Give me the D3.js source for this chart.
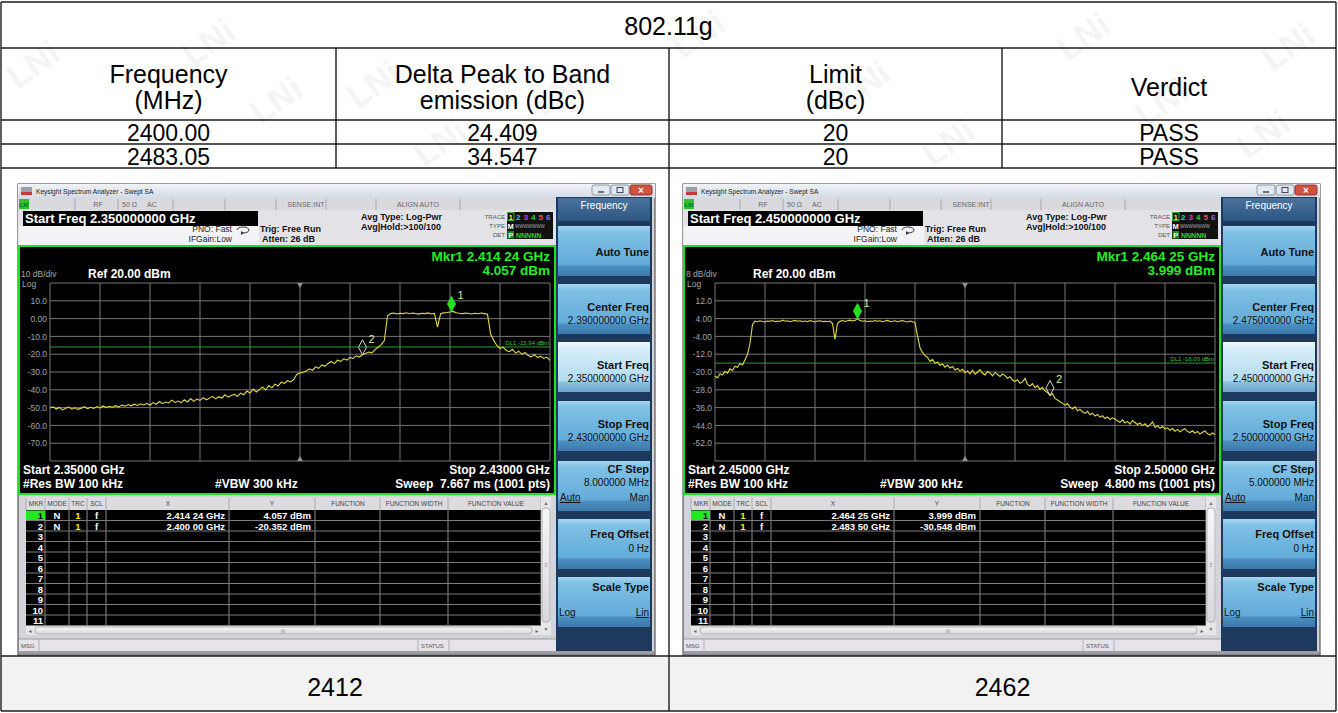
<!DOCTYPE html>
<html>
<head>
<meta charset="utf-8">
<script src="https://cdn.jsdelivr.net/npm/d3@7/dist/d3.min.js"></script>
<style>
  body { margin: 0; background: #fff; }
  text { font-family: "Liberation Sans", Arial, sans-serif; }
</style>
</head>
<body>
<div id="chart"></div>
<script>
// ---- result table
var modeName = '802.11g';
var headFreq = ['Frequency', '(MHz)'];
var headDelta = ['Delta Peak to Band', 'emission (dBc)'];
var headLimit = ['Limit', '(dBc)'];
var headVerdict = ['Verdict'];
var edgeFreq = ['2400.00', '2483.05'];
var deltaPeak = ['24.409', '34.547'];
var limitDbc = ['20', '20'];
var verdict = ['PASS', 'PASS'];
var channel = ['2412', '2462'];

// ---- analyzer settings (MHz, dBm)
var spanStart = [2350, 2450];
var spanStop = [2430, 2500];
var refLevel = [20, 20];
var dbDiv = [10, 8];
var dlLevel = [-15.94, -16.00];
var sweepMs = ['7.667', '4.800'];
var cfStepMHz = ['8.000000', '5.000000'];
var yTickLeft = ['10.0', '0.00', '-10.0', '-20.0', '-30.0', '-40.0', '-50.0', '-60.0', '-70.0'];
var yTickRight = ['12.0', '4.00', '-4.00', '-12.0', '-20.0', '-28.0', '-36.0', '-44.0', '-52.0'];
var mkrFreqLeft = [2414.24, 2400.00];
var mkrAmpLeft = [4.057, -20.352];
var mkrFreqRight = [2464.25, 2483.50];
var mkrAmpRight = [3.999, -30.548];
var keyNames = ['Auto Tune', 'Center Freq', 'Start Freq', 'Stop Freq', 'CF Step', 'Freq Offset', 'Scale Type'];
var mkrHeads = ['MKR', 'MODE', 'TRC', 'SCL', 'X', 'Y', 'FUNCTION', 'FUNCTION WIDTH', 'FUNCTION VALUE'];

// trace readings (dBm), evenly spaced from start to stop
var traceLeft = [
  -50.2, -49.6, -50.8, -49.9, -51.3, -50.4, -49.7, -50.9, -50.1, -51.0, -50.3, -49.5, -50.6, -49.8, -50.5, -49.4, -50.2, -49.1, -50.0, -49.3, -49.8,
  -48.9, -49.6, -48.6, -49.2, -48.3, -49.0, -48.1, -48.8, -47.9, -48.5, -47.6, -48.7, -47.2, -48.1, -46.6, -47.8, -46.9, -47.4, -45.8, -47.1,
  -46.3, -47.2, -45.6, -46.8, -44.9, -46.5, -45.2, -45.9, -44.4, -45.6, -44.8, -43.7, -45.1, -43.9, -44.6, -42.8, -44.1, -43.2, -42.5, -43.6,
  -41.9, -42.8, -40.7, -41.8, -39.6, -41.2, -39.9, -38.4, -40.1, -37.6, -38.9, -36.8, -37.9, -35.7, -36.4, -34.9, -35.6, -34.2, -31.2, -30.6,
  -30.1, -29.4, -28.2, -29.0, -27.1, -27.9, -26.0, -26.8, -25.2, -24.1, -25.3, -23.4, -24.0, -22.6, -23.3, -21.8, -22.4, -20.9, -21.6, -20.35,
  -19.6, -18.8, -19.2, -17.4, -16.1, -14.6, -12.3,
  1.6,
  2.9, 3.1, 2.6, 3.0, 2.8, 3.3, 2.7, 3.1, 2.9, 2.5, 3.0, 2.8, 3.2, 2.6, 2.9,
  -4.8,
  2.7, 3.2, 3.4, 3.7, 4.05, 3.3, 3.0, 2.8, 3.1, 2.9, 2.6, 3.0, 2.7, 3.1, 2.8, 2.4,
  -8.7, -12.4, -15.1, -16.8, -16.0, -17.9, -18.6, -17.2, -19.4, -18.3, -20.1, -19.0, -20.8, -21.5, -20.2, -21.9, -21.1, -22.4, -21.6, -23.4
];
var traceRight = [
  -21.9, -22.6, -20.8, -21.4, -19.7, -20.5, -18.6, -19.3, -17.4, -17.9, -16.2, -16.8, -14.5, -12.1, -7.2, 1.4,
  2.9, 2.6, 3.0, 2.7, 2.5, 2.9, 2.8, 3.1, 2.6, 2.9, 2.7, 3.3, 2.8, 3.0, 2.6, 2.9, 3.2, 2.8, 3.0, 2.7, 2.9, 2.6, 3.1, 2.8, 2.5, 2.9, 3.0, 2.7, 2.8, 2.6, 2.9, 1.8,
  -5.3,
  1.9, 2.8, 3.1, 2.7, 3.0, 3.3, 2.9, 3.2, 3.999, 3.1, 2.8, 3.0, 2.6, 2.9, 2.7, 3.1, 2.8, 3.0, 2.6, 2.9, 3.2, 2.7, 2.8, 3.0, 2.6, 2.9, 3.1, 2.7, 2.5, 2.9, 2.6, 2.2,
  -3.8, -9.1, -11.2, -12.6, -13.4, -15.2, -14.3, -16.1, -15.6, -17.0, -16.4, -17.8, -16.9, -18.2, -17.5, -19.1, -18.4, -19.6, -18.8, -20.3,
  -19.5, -20.8, -19.2, -21.0, -20.1, -18.9, -20.6, -21.3, -19.8, -20.4, -21.7, -20.2, -21.1, -22.0, -20.9, -21.6, -22.8, -22.1, -23.6, -24.2,
  -23.5, -25.1, -24.4, -22.9, -25.6, -26.3, -25.2, -27.0, -26.1, -27.8, -26.9, -28.5, -29.2, -30.548, -29.7, -31.9, -32.6, -33.4, -34.1, -34.9,
  -34.2, -35.8, -36.5, -35.6, -37.4, -36.8, -37.9, -38.6, -37.7, -39.2, -38.5, -39.8, -39.1, -40.3, -39.6, -40.9, -40.2, -41.4, -40.6, -41.1,
  -41.9, -42.6, -41.5, -42.9, -42.2, -43.4, -41.8, -42.7, -43.6, -42.9, -44.1, -43.3, -44.6, -43.8, -42.4, -44.9, -44.2, -45.3, -44.5, -45.6,
  -45.1, -46.2, -45.4, -46.6, -45.8, -46.9, -46.1, -45.5, -46.8, -47.2, -46.4, -47.5, -46.7, -47.9, -47.1, -46.5, -47.8, -48.3, -47.4, -48.1
];

var svg = d3.select('#chart').append('svg').attr('width', 1338).attr('height', 713);
var defs = svg.append('defs');

function grad(id, stops) {
  var lg = defs.append('linearGradient').attr('id', id)
    .attr('x1', 0).attr('y1', 0).attr('x2', 0).attr('y2', 1);
  stops.forEach(function (s) {
    lg.append('stop').attr('offset', s[0]).attr('stop-color', s[1]);
  });
}
grad('tbar', [[0, '#f1f4f8'], [1, '#d3dbe5']]);
grad('key', [[0, '#a6d5ee'], [0.12, '#80c1e5'], [0.78, '#62abd9'], [0.8, '#4a8fc0'], [1, '#3c7aab']]);
grad('keySel', [[0, '#f4fbfe'], [0.12, '#d8eef9'], [0.78, '#b2daef'], [0.8, '#8cc1e0'], [1, '#6ea6cf']]);
grad('keyHead', [[0, '#4a739c'], [1, '#2c5783']]);
grad('bar', [[0, '#f7f7f9'], [1, '#d7d7dc']]);

function txt(p, x, y, s, size, o) {
  o = o || {};
  return p.append('text')
    .attr('x', x).attr('y', y)
    .attr('font-size', size)
    .attr('font-weight', o.w || 'normal')
    .attr('fill', o.c || '#000')
    .attr('text-anchor', o.a || 'start')
    .text(s);
}
function seg(p, x1, y1, x2, y2, c, w) {
  return p.append('line').attr('x1', x1).attr('y1', y1).attr('x2', x2).attr('y2', y2)
    .attr('stroke', c).attr('stroke-width', w || 1);
}
function ghz(mhz, d) { return (mhz / 1000).toFixed(d); }
function mkr(mhz) { var s = (mhz / 1000).toFixed(5); return s.slice(0, 5) + ' ' + s.slice(5); }

// ---- table cells
var colX = [1, 336, 669, 1002, 1336];
var rowY = [2, 48, 120, 144, 168, 656, 711];

svg.append('rect').attr('x', colX[0]).attr('y', rowY[5])
  .attr('width', colX[4] - colX[0]).attr('height', rowY[6] - rowY[5]).attr('fill', '#f2f2f2');

var tb = svg.append('g');
function cell(x, y, s, size) {
  txt(tb, x, y, s, size || 25, {a: 'middle'}).attr('dominant-baseline', 'central');
}
cell((colX[0] + colX[4]) / 2, (rowY[0] + rowY[1]) / 2 + 1, modeName);
var heads = [headFreq, headDelta, headLimit, headVerdict];
heads.forEach(function (h, i) {
  var cx = (colX[i] + colX[i + 1]) / 2, cy = (rowY[1] + rowY[2]) / 2 + 3;
  h.forEach(function (s, j) { cell(cx, cy + (j - (h.length - 1) / 2) * 26, s); });
});
edgeFreq.forEach(function (f, r) {
  var cy = (rowY[2 + r] + rowY[3 + r]) / 2 + 1;
  var vals = [f, deltaPeak[r], limitDbc[r], verdict[r]];
  vals.forEach(function (s, i) { cell((colX[i] + colX[i + 1]) / 2, cy, s, 23); });
});
channel.forEach(function (s, i) {
  var cx = i === 0 ? (colX[0] + colX[2]) / 2 : (colX[2] + colX[4]) / 2;
  cell(cx, (rowY[5] + rowY[6]) / 2 + 3, s);
});

// ---- one analyzer screen
function analyzer(s, id) {
  var g = svg.append('g').attr('transform', 'translate(' + s.ox + ',184)');
  var center = (s.start + s.stop) / 2;

  g.append('rect').attr('width', 637).attr('height', 471).attr('fill', '#d3d4da').attr('stroke', '#3a3a3a');

  // title bar
  g.append('rect').attr('width', 637).attr('height', 14).attr('fill', 'url(#tbar)');
  g.append('rect').attr('x', 3).attr('y', 3).attr('width', 11).attr('height', 8).attr('fill', '#9aa0aa');
  g.append('rect').attr('x', 3).attr('y', 8).attr('width', 11).attr('height', 3).attr('fill', '#c8393a');
  txt(g, 18, 10, 'Keysight Spectrum Analyzer - Swept SA', 6.6, {c: '#222'});
  g.append('rect').attr('x', 574).attr('y', 1).attr('width', 18).attr('height', 10).attr('rx', 2)
    .attr('fill', '#e3e9f0').attr('stroke', '#8a96a6');
  g.append('rect').attr('x', 593).attr('y', 1).attr('width', 18).attr('height', 10).attr('rx', 2)
    .attr('fill', '#e3e9f0').attr('stroke', '#8a96a6');
  g.append('rect').attr('x', 612).attr('y', 1).attr('width', 22).attr('height', 10).attr('rx', 2)
    .attr('fill', '#d2503f').attr('stroke', '#8a3a30');
  seg(g, 580, 8, 586, 8, '#445', 1.5);
  g.append('rect').attr('x', 599).attr('y', 3.5).attr('width', 6).attr('height', 5).attr('fill', 'none').attr('stroke', '#445');
  txt(g, 623, 10, '×', 10, {c: '#fff', a: 'middle', w: 'bold'});

  // status row
  g.append('rect').attr('y', 14).attr('width', 538).attr('height', 12).attr('fill', '#dadade');
  g.append('rect').attr('x', 1).attr('y', 15).attr('width', 10).attr('height', 10).attr('fill', '#2fc12f');
  txt(g, 6, 23, 'LXI', 5.5, {a: 'middle', w: 'bold', c: '#063'});
  [57, 100, 155, 207, 258, 308, 358, 442].forEach(function (x) { seg(g, x, 15, x, 26, '#a4a4ac'); });
  txt(g, 80, 23, 'RF', 7, {c: '#666', a: 'middle'});
  txt(g, 104, 23, '50 Ω', 7, {c: '#666'});
  txt(g, 129, 23, 'AC', 7, {c: '#666'});
  txt(g, 288, 23, 'SENSE:INT', 7, {c: '#666', a: 'middle'});
  txt(g, 400, 23, 'ALIGN AUTO', 7, {c: '#666', a: 'middle'});

  // settings area
  g.append('rect').attr('y', 26).attr('width', 538).attr('height', 36).attr('fill', '#e3e3e7');
  g.append('rect').attr('x', 1).attr('y', 42).attr('width', 240).attr('height', 19).attr('fill', '#f3f3f5');
  g.append('rect').attr('x', 5).attr('y', 27).attr('width', 235).attr('height', 15).attr('fill', '#000');
  txt(g, 7, 39, 'Start Freq ' + ghz(s.start, 9) + ' GHz', 13, {w: 'bold', c: '#fff'});
  txt(g, 214, 48, 'PNO: Fast', 8.5, {c: '#222', a: 'end'});
  txt(g, 214, 58, 'IFGain:Low', 8.5, {c: '#222', a: 'end'});
  g.append('path').attr('d', 'M219,46 a6,3 0 1,1 12,0 a6,3 0 0,1 -6,3').attr('fill', 'none').attr('stroke', '#333');
  g.append('path').attr('d', 'M223,47 l3,2 l-3,2 z').attr('fill', '#333');
  txt(g, 242, 48, 'Trig: Free Run', 9, {w: 'bold', c: '#111'});
  txt(g, 244, 58, 'Atten: 26 dB', 9, {w: 'bold', c: '#111'});
  txt(g, 343, 36, 'Avg Type: Log-Pwr', 9, {w: 'bold', c: '#111'});
  txt(g, 343, 46, 'Avg|Hold:>100/100', 9, {w: 'bold', c: '#111'});
  txt(g, 487, 35, 'TRACE', 6, {c: '#555', a: 'end'});
  txt(g, 487, 44, 'TYPE', 6, {c: '#555', a: 'end'});
  txt(g, 487, 53, 'DET', 6, {c: '#555', a: 'end'});
  g.append('rect').attr('x', 489).attr('y', 28).attr('width', 46).attr('height', 27).attr('fill', '#111');
  g.append('rect').attr('x', 489.5).attr('y', 28.5).attr('width', 6.5).attr('height', 8).attr('fill', 'none').attr('stroke', '#3a3');
  var trc = ['#f2ee20', '#22d0f0', '#e030e0', '#30d030', '#f05060', '#8a70ff'];
  trc.forEach(function (c, k) { txt(g, 492.7 + k * 7.5, 35.5, String(k + 1), 8, {w: 'bold', c: c, a: 'middle'}); });
  txt(g, 492.7, 44.5, 'M', 7.5, {w: 'bold', c: '#fff', a: 'middle'});
  txt(g, 497, 44, 'WWWWWWW', 4.5, {c: '#aaa'});
  g.append('rect').attr('x', 489.5).attr('y', 47).attr('width', 6.5).attr('height', 7.5).attr('fill', '#1a8a1a');
  txt(g, 492.7, 53.5, 'P', 7.5, {w: 'bold', c: '#fff', a: 'middle'});
  txt(g, 498, 53.5, 'NNNNN', 7, {w: 'bold', c: '#2ed42e'});

  // graticule display
  var gr = g.append('g');
  gr.append('rect').attr('x', 1).attr('y', 62).attr('width', 536).attr('height', 248)
    .attr('fill', '#000').attr('stroke', '#1ee31e').attr('stroke-width', 2);
  var x = d3.scaleLinear().domain([s.start, s.stop]).range([32, 532]);
  var y = d3.scaleLinear().domain([s.ref - 10 * s.div, s.ref]).range([277, 99]);
  d3.range(11).forEach(function (k) {
    var gx = x(s.start + k * (s.stop - s.start) / 10), gy = y(s.ref - k * s.div);
    seg(gr, gx, 99, gx, 277, '#767676');
    seg(gr, 32, gy, 532, gy, '#767676');
  });
  var tv = s.ticks.map(function (t, k) { return s.ref - (k + 1) * s.div; });
  var ax = gr.append('g').attr('transform', 'translate(32,0)')
    .call(d3.axisLeft(y).tickValues(tv).tickSize(0).tickPadding(3)
      .tickFormat(function (d, k) { return s.ticks[k]; }));
  ax.select('.domain').remove();
  ax.attr('font-size', 8.5);
  ax.selectAll('text').attr('fill', '#a4a4a4');

  var cx = x(center);
  gr.append('path').attr('d', 'M' + (cx - 3) + ',99 L' + (cx + 3) + ',99 L' + cx + ',104 Z').attr('fill', '#909090');
  gr.append('path').attr('d', 'M' + (cx - 3) + ',277 L' + (cx + 3) + ',277 L' + cx + ',272 Z').attr('fill', '#909090');

  seg(gr, 32, y(s.dl), 532, y(s.dl), '#2f9b2f');
  txt(gr, 531, y(s.dl) - 2, 'DL1 ' + s.dl.toFixed(2) + ' dBm', 6, {c: '#3cc43c', a: 'end'});

  var n = s.trace.length;
  var clipId = 'plot' + id;
  defs.append('clipPath').attr('id', clipId).append('rect')
    .attr('x', 32).attr('y', 99).attr('width', 500).attr('height', 178);
  gr.append('path').datum(s.trace)
    .attr('clip-path', 'url(#' + clipId + ')')
    .attr('fill', 'none').attr('stroke', '#e2da3a').attr('stroke-width', 1.1)
    .attr('d', d3.line()
      .x(function (d, k) { return x(s.start + k * (s.stop - s.start) / (n - 1)); })
      .y(function (d) { return y(d); }));

  s.mf.forEach(function (f, m) {
    var px = x(f), py = y(s.ma[m]);
    gr.append('path').attr('d', 'M' + px + ',' + py + 'l4,-7.5l-4,-7.5l-4,7.5z')
      .attr('fill', m === 0 ? '#22e022' : 'none')
      .attr('stroke', m === 0 ? '#22e022' : '#d8d8d8');
    txt(gr, px + 6, py - 12, String(m + 1), 11, {c: '#e9e39a'});
  });

  txt(gr, 532, 76.5, 'Mkr1 ' + mkr(s.mf[0]) + ' GHz', 13.5, {w: 'bold', c: '#22ee22', a: 'end'});
  txt(gr, 532, 90.5, s.ma[0].toFixed(3) + ' dBm', 13.5, {w: 'bold', c: '#22ee22', a: 'end'});
  txt(gr, 3, 93, s.div + ' dB/div', 8.5, {c: '#a8a8a8'});
  txt(gr, 70, 94, 'Ref ' + s.ref.toFixed(2) + ' dBm', 12, {w: 'bold', c: '#fff'});
  txt(gr, 4, 102.5, 'Log', 8.5, {c: '#a8a8a8'});
  txt(gr, 5, 290, 'Start ' + ghz(s.start, 5) + ' GHz', 12, {w: 'bold', c: '#fff'});
  txt(gr, 532, 290, 'Stop ' + ghz(s.stop, 5) + ' GHz', 12, {w: 'bold', c: '#fff', a: 'end'});
  txt(gr, 5, 304, '#Res BW 100 kHz', 12, {w: 'bold', c: '#fff'});
  txt(gr, 197, 304, '#VBW 300 kHz', 12, {w: 'bold', c: '#fff'});
  txt(gr, 532, 304, 'Sweep  ' + s.sweep + ' ms (1001 pts)', 12, {w: 'bold', c: '#fff', a: 'end'})
    .style('white-space', 'pre');

  // marker table
  var tg = g.append('g');
  var cols = [8, 27, 51, 69, 88, 211, 297, 362, 430, 523];
  var hx = [18, 39, 60, 78.5, 150, 254, 330, 396, 478];
  tg.append('rect').attr('x', 8).attr('y', 313).attr('width', 525).attr('height', 13).attr('fill', '#dcdce0');
  tg.append('rect').attr('x', 8).attr('y', 326).attr('width', 515).attr('height', 116).attr('fill', '#000');
  mkrHeads.forEach(function (h, k) { txt(tg, hx[k], 322, h, 6.5, {c: '#444', a: 'middle'}); });
  cols.forEach(function (c, k) {
    seg(tg, c, 314, c, 326, '#a8a8b0');
    if (k > 0) seg(tg, c, 326, c, 442, '#8a8a8a');
  });
  for (var r = 0; r < 11; r++) {
    var ry = 326 + r * 10.5;
    seg(tg, 8, ry + 10.5, 523, ry + 10.5, '#7c7c7c');
    if (r === 0) tg.append('rect').attr('x', 8).attr('y', ry + 0.5).attr('width', 19).attr('height', 9.5).attr('fill', '#22e822');
    txt(tg, 25, ry + 9, String(r + 1), 9.5, {w: 'bold', c: r === 0 ? '#000' : '#fff', a: 'end'});
  }
  s.mf.forEach(function (f, m) {
    var by = 326 + m * 10.5 + 9;
    txt(tg, 39, by, 'N', 9.5, {w: 'bold', c: '#fff', a: 'middle'});
    txt(tg, 60, by, '1', 9.5, {w: 'bold', c: '#f0f000', a: 'middle'});
    txt(tg, 78.5, by, 'f', 9.5, {w: 'bold', c: '#fff', a: 'middle'});
    txt(tg, 207, by, mkr(f) + ' GHz', 9.5, {w: 'bold', c: '#fff', a: 'end'});
    txt(tg, 293, by, s.ma[m].toFixed(3) + ' dBm', 9.5, {w: 'bold', c: '#fff', a: 'end'});
  });
  tg.append('rect').attr('x', 523).attr('y', 313).attr('width', 10).attr('height', 138).attr('fill', '#e6e6e8');
  tg.append('rect').attr('x', 524).attr('y', 324).attr('width', 8).attr('height', 114).attr('rx', 3)
    .attr('fill', 'url(#bar)').attr('stroke', '#b0b0b4');
  txt(tg, 528, 321, '▲', 5, {c: '#666', a: 'middle'});
  txt(tg, 528, 447, '▼', 5, {c: '#666', a: 'middle'});
  txt(tg, 528, 383, '≡', 6, {c: '#888', a: 'middle'});
  tg.append('rect').attr('x', 8).attr('y', 442).attr('width', 515).attr('height', 9).attr('fill', '#e6e6e8');
  tg.append('rect').attr('x', 17).attr('y', 443).attr('width', 497).attr('height', 7).attr('rx', 3)
    .attr('fill', 'url(#bar)').attr('stroke', '#b0b0b4');
  txt(tg, 12, 449, '◄', 5, {c: '#666', a: 'middle'});
  txt(tg, 519, 449, '►', 5, {c: '#666', a: 'middle'});
  txt(tg, 265, 449, 'III', 5, {c: '#888', a: 'middle'});

  // message bar
  g.append('rect').attr('x', 1).attr('y', 455).attr('width', 537).attr('height', 13).attr('fill', '#e6e4ea');
  seg(g, 1, 455, 538, 455, '#9a9aa2');
  txt(g, 3, 464, 'MSG', 6, {c: '#555'});
  seg(g, 21, 455, 21, 468, '#b0b0b6');
  seg(g, 400, 455, 400, 468, '#b0b0b6');
  txt(g, 403, 464, 'STATUS', 6, {c: '#555'});
  seg(g, 431, 455, 431, 468, '#b0b0b6');
  g.append('rect').attr('x', 1).attr('y', 467).attr('width', 635).attr('height', 3).attr('fill', '#9c9ca4');

  // soft keys
  var kp = g.append('g');
  kp.append('rect').attr('x', 538).attr('y', 13).attr('width', 96).attr('height', 454).attr('fill', '#1d3a5e');
  kp.append('rect').attr('x', 540).attr('y', 14).attr('width', 92).attr('height', 23).attr('fill', 'url(#keyHead)');
  txt(kp, 586, 25, 'Frequency', 10, {c: '#fff', a: 'middle'});
  var keyTop = [42, 100, 158, 217, 277, 335, 393];
  var keyLab = [30, 27, 27, 27, 12, 19, 14];
  var keyValY = [0, 40, 40, 40, 25, 33, 0];
  var keyVal = ['', ghz(center, 9) + ' GHz', ghz(s.start, 9) + ' GHz', ghz(s.stop, 9) + ' GHz', s.step + ' MHz', '0 Hz', ''];
  keyNames.forEach(function (k, i) {
    var t = keyTop[i];
    kp.append('rect').attr('x', 540).attr('y', t).attr('width', 92).attr('height', 50)
      .attr('fill', i === 2 ? 'url(#keySel)' : 'url(#key)');
    txt(kp, 631, t + keyLab[i], k, 11, {w: 'bold', c: '#111', a: 'end'});
    if (keyVal[i]) txt(kp, 631, t + keyValY[i], keyVal[i], 10, {c: '#111', a: 'end'});
  });
  txt(kp, 542, 317, 'Auto', 10, {c: '#111'}).attr('text-decoration', 'underline');
  txt(kp, 631, 317, 'Man', 10, {c: '#111', a: 'end'});
  txt(kp, 541, 432, 'Log', 10, {c: '#111'});
  txt(kp, 631, 432, 'Lin', 10, {c: '#111', a: 'end'}).attr('text-decoration', 'underline');
}

var screens = [
  {ox: 18, start: spanStart[0], stop: spanStop[0], ref: refLevel[0], div: dbDiv[0], dl: dlLevel[0],
    ticks: yTickLeft, trace: traceLeft, mf: mkrFreqLeft, ma: mkrAmpLeft, sweep: sweepMs[0], step: cfStepMHz[0]},
  {ox: 683, start: spanStart[1], stop: spanStop[1], ref: refLevel[1], div: dbDiv[1], dl: dlLevel[1],
    ticks: yTickRight, trace: traceRight, mf: mkrFreqRight, ma: mkrAmpRight, sweep: sweepMs[1], step: cfStepMHz[1]}
];
screens.forEach(function (s, i) { analyzer(s, i); });

// ---- table rules
var tl = svg.append('g').attr('stroke', '#1c1c1c').attr('stroke-width', 1.4);
rowY.forEach(function (ry) {
  tl.append('line').attr('x1', colX[0]).attr('x2', colX[4]).attr('y1', ry).attr('y2', ry);
});
[colX[0], colX[4]].forEach(function (cx) {
  tl.append('line').attr('x1', cx).attr('x2', cx).attr('y1', rowY[0]).attr('y2', rowY[6]);
});
[colX[1], colX[3]].forEach(function (cx) {
  tl.append('line').attr('x1', cx).attr('x2', cx).attr('y1', rowY[1]).attr('y2', rowY[4]);
});
tl.append('line').attr('x1', colX[2]).attr('x2', colX[2]).attr('y1', rowY[1]).attr('y2', rowY[6]);

// ---- faint watermark
var wm = [[40, 74], [215, 52], [283, 110], [380, 94], [447, 152], [566, 102], [705, 44], [870, 94],
  [955, 152], [1090, 46], [1168, 112], [1270, 144], [1295, 56]];
wm.forEach(function (p) {
  txt(svg, p[0], p[1], 'LNi', 34, {w: 'bold', c: '#000', a: 'middle'})
    .attr('opacity', 0.04)
    .attr('transform', 'rotate(-35,' + p[0] + ',' + p[1] + ')');
});
</script>
</body>
</html>
